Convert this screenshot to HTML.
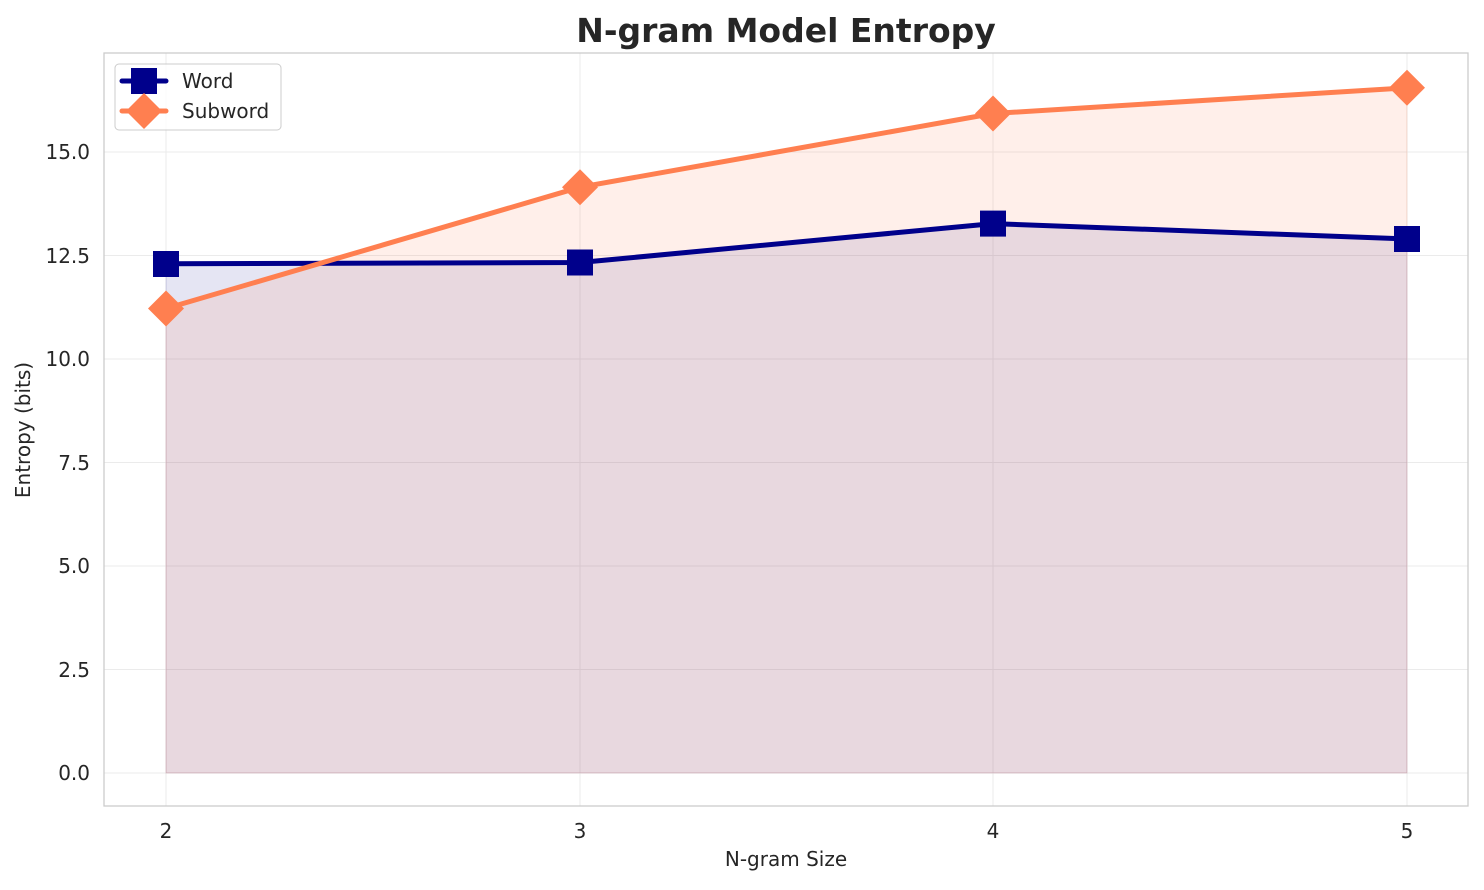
<!DOCTYPE html><html><head><style>body{margin:0;background:#fff}</style></head><body>
<svg width="1484" height="885" xmlns="http://www.w3.org/2000/svg" font-family="DejaVu Sans, Liberation Sans, sans-serif">
<rect width="1484" height="885" fill="#fff"/>
<g stroke="#ebebeb" stroke-width="1">
<line x1="166" y1="53" x2="166" y2="806"/><line x1="580" y1="53" x2="580" y2="806"/><line x1="993" y1="53" x2="993" y2="806"/><line x1="1407" y1="53" x2="1407" y2="806"/>
<line x1="104" y1="773" x2="1468" y2="773"/><line x1="104" y1="669.5" x2="1468" y2="669.5"/><line x1="104" y1="566" x2="1468" y2="566"/><line x1="104" y1="462.5" x2="1468" y2="462.5"/><line x1="104" y1="359" x2="1468" y2="359"/><line x1="104" y1="255.5" x2="1468" y2="255.5"/><line x1="104" y1="152" x2="1468" y2="152"/>
</g>
<polygon points="166,263.8 580,262.5 993,223.6 1407,239 1407,773 166,773" fill="#00008b" fill-opacity="0.1" stroke="#00008b" stroke-opacity="0.1"/>
<polygon points="166,308.5 580,187.2 993,113.5 1407,87.8 1407,773 166,773" fill="#ff7f50" fill-opacity="0.12" stroke="#ff7f50" stroke-opacity="0.15"/>
<rect x="104" y="53" width="1364" height="753" fill="none" stroke="#ccc" stroke-width="1.3"/>
<polyline points="166,263.8 580,262.5 993,223.6 1407,239" fill="none" stroke="#00008b" stroke-width="5" stroke-linejoin="round"/>
<g fill="#00008b"><rect x="153" y="251" width="26" height="26"/><rect x="567" y="249.5" width="26" height="26"/><rect x="980" y="210.6" width="26" height="26"/><rect x="1394" y="226" width="26" height="26"/></g>
<polyline points="166,308.5 580,187.2 993,113.5 1407,87.8" fill="none" stroke="#ff7f50" stroke-width="5" stroke-linejoin="round"/>
<g fill="#ff7f50">
<polygon points="166,290.5 184,308.5 166,326.5 148,308.5"/><polygon points="580,169.2 598,187.2 580,205.2 562,187.2"/><polygon points="993,95.5 1011,113.5 993,131.5 975,113.5"/><polygon points="1407,69.8 1425,87.8 1407,105.8 1389,87.8"/></g>
<rect x="115" y="64" width="166" height="66" rx="4" fill="#fff" fill-opacity="0.8" stroke="#ccc"/>
<line x1="122" y1="81" x2="166" y2="81" stroke="#00008b" stroke-width="5" stroke-linecap="round"/><rect x="131" y="68" width="26" height="26" fill="#00008b"/>
<line x1="122" y1="111" x2="166" y2="111" stroke="#ff7f50" stroke-width="5" stroke-linecap="round"/><polygon points="144,93 162,111 144,129 126,111" fill="#ff7f50"/>
<g font-size="20" fill="#262626"><text x="182" y="88">Word</text><text x="182" y="118">Subword</text></g>
<g font-size="20" fill="#262626" text-anchor="end">
<text x="90" y="780">0.0</text><text x="90" y="677">2.5</text><text x="90" y="573">5.0</text><text x="90" y="470">7.5</text><text x="90" y="366">10.0</text><text x="90" y="263">12.5</text><text x="90" y="159">15.0</text></g>
<g font-size="20" fill="#262626" text-anchor="middle">
<text x="166" y="838">2</text><text x="580" y="838">3</text><text x="993" y="838">4</text><text x="1407" y="838">5</text>
<text x="786" y="866">N-gram Size</text>
<text x="786" y="42" font-size="33" font-weight="bold">N-gram Model Entropy</text></g>
<text transform="translate(30,430) rotate(-90)" font-size="20" fill="#262626" text-anchor="middle">Entropy (bits)</text>
</svg></body></html>
